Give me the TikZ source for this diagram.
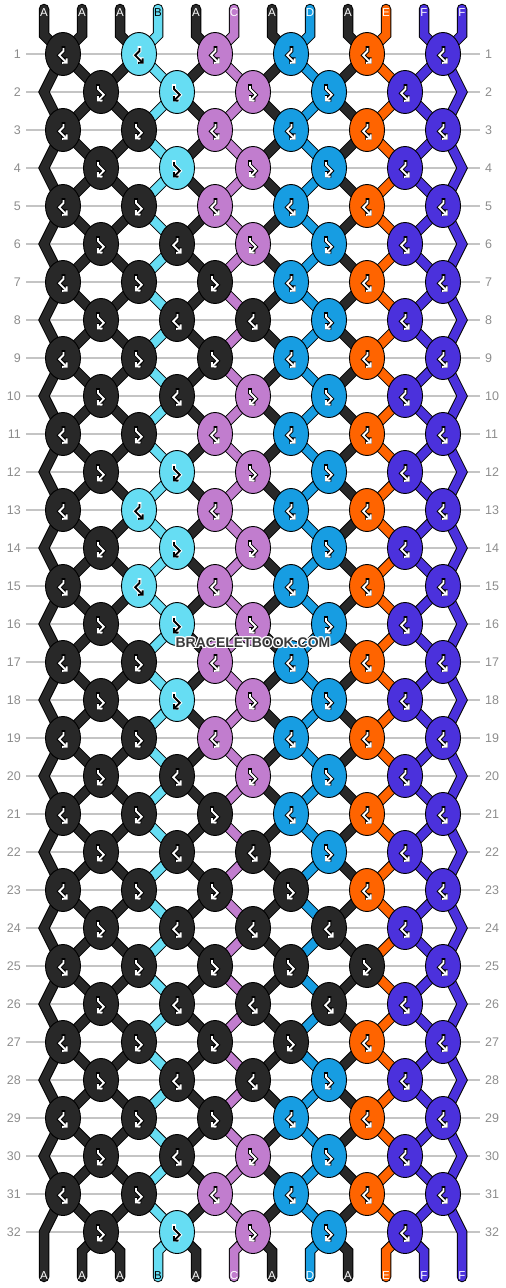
\documentclass[tikz,border=0pt]{standalone}
\usepackage{fontspec}
\setmainfont{Liberation Sans}
\usetikzlibrary{arrows.meta,shapes.geometric}

% thread colours
\definecolor{colA}{HTML}{282828}
\definecolor{colB}{HTML}{66DDF3}
\definecolor{colC}{HTML}{C17DCE}
\definecolor{colD}{HTML}{179DE2}
\definecolor{colE}{HTML}{FF6400}
\definecolor{colF}{HTML}{4B31DC}
\colorlet{inkA}{white}\colorlet{inkB}{black}\colorlet{inkC}{white}
\colorlet{inkD}{white}\colorlet{inkE}{white}\colorlet{inkF}{white}
\colorlet{rimA}{black}\colorlet{rimB}{white}\colorlet{rimC}{black}
\colorlet{rimD}{black}\colorlet{rimE}{black}\colorlet{rimF}{black}
\definecolor{gridgray}{HTML}{C4C4C4}
\definecolor{numgray}{HTML}{8C8C8C}
\definecolor{markgray}{HTML}{3A3A3A}

\tikzset{
  thread/.style={draw=black, line width=1pt, double=col#1, double distance=8.5pt, line cap=round},
  knot/.style={ellipse, draw=black, line width=0.9pt, fill=col#1, minimum width=35pt, minimum height=43pt, inner sep=0pt},
  ink/.style={draw=ink#1, line width=1.9pt, -{Straight Barb[length=3pt,width=6.4pt]}},
  rim/.style={draw=rim#1, line width=3.8pt, line cap=rect, -{Straight Barb[length=3pt,width=6.4pt]}},
  rowline/.style={draw=gridgray, line width=1.2pt},
  rownum/.style={text=numgray, inner sep=0pt, font=\fontsize{12.5}{14}\selectfont},
  endlabel/.style={text=ink#1, inner sep=0pt, font=\fontsize{11.5}{13}\selectfont},
  watermark/.style={text=markgray, inner sep=0pt, font=\bfseries\fontsize{14}{16}\selectfont},
}
% knot glyphs: backward-forward and forward-backward
\def\glyphbf{(0.5,-6) -- (0.5,-3) -- (-3.8,1.3) -- (4.5,9.6)}
\def\glyphfb{(-3,-6) -- (-3,-3) -- (2.8,2.8) -- (-3.8,9.4)}

\begin{document}
\begin{tikzpicture}[x=1pt, y=-1pt]
\useasboundingbox (0,0) rectangle (506,1288);

% string positions, row by row
\foreach \r in {1,...,32}
  \foreach \p in {1,...,12}{
    \pgfmathsetmacro\dx{(isodd(\r) || ((\p>1) && (\p<12))) ? (isodd(\p+\r) ? -19 : 19) : 0}
    \coordinate (s\p-\r) at ({44+38*(\p-1)+\dx}, {54+38*(\r-1)});
  }

% row lines and numbers
\foreach \r in {1,...,32}{
  \coordinate (gl\r) at (26, {54+38*(\r-1)});
  \coordinate (gr\r) at (480, {54+38*(\r-1)});
  \draw[rowline] (gl\r) -- (gr\r);
  \node[rownum, anchor=east] (nl\r) at (21, {54+38*(\r-1)}) {\r};
  \node[rownum, anchor=west] (nr\r) at (485, {54+38*(\r-1)}) {\r};
}

% threads
\foreach \p/\c in {1/A,2/A,3/A,4/B,5/A,6/C,7/A,8/D,9/A,10/E,11/F,12/F}{
  \coordinate (top\p) at ({44+38*(\p-1)}, 9);
  \coordinate (bend\p) at ({44+38*(\p-1)}, 35);
  \coordinate (foot\p) at ({44+38*(\p-1)}, 1251);
  \coordinate (end\p) at ({44+38*(\p-1)}, 1277);
  \draw[thread=\c] (top\p) -- (bend\p) \foreach \r in {1,...,32}{ -- (s\p-\r)} -- (foot\p) -- (end\p);
  \node[endlabel=\c] (lt\p) at ({44+38*(\p-1)}, 13) {\c};
  \node[endlabel=\c] (lb\p) at ({44+38*(\p-1)}, 1276) {\c};
}

% knots: 0 = forward-backward, 1 = backward-forward
\foreach \r/\types in {1/{1,1,1,1,1,1}, 2/{0,0,0,0,1}, 3/{1,0,1,1,1,1}, 4/{0,0,0,0,1},
    5/{1,0,1,1,1,1}, 6/{0,1,0,0,1}, 7/{1,0,0,1,1,1}, 8/{0,1,1,0,1},
    9/{1,0,0,1,1,1}, 10/{0,1,0,0,1}, 11/{1,0,1,1,1,1}, 12/{0,0,0,0,1},
    13/{1,1,1,1,1,1}, 14/{0,0,0,0,1}, 15/{1,1,1,1,1,1}, 16/{0,0,0,0,1},
    17/{1,0,1,1,1,1}, 18/{0,0,0,0,1}, 19/{1,0,1,1,1,1}, 20/{0,1,0,0,1},
    21/{1,0,0,1,1,1}, 22/{0,1,1,0,1}, 23/{1,0,0,0,1,1}, 24/{0,1,1,1,1},
    25/{1,0,0,0,0,1}, 26/{0,1,1,1,1}, 27/{1,0,0,0,1,1}, 28/{0,1,1,0,1},
    29/{1,0,0,1,1,1}, 30/{0,1,0,0,1}, 31/{1,0,1,1,1,1}, 32/{0,0,0,0,1}}
  \foreach \t [count=\k] in \types {
    \pgfmathtruncatemacro\lp{isodd(\r) ? 2*\k-1 : 2*\k}
    \pgfmathsetmacro\kc{{"A","A","A","B","A","C","A","D","A","E","F","F"}[\lp-1+\t]}
    \node[knot=\kc] (k\r-\k) at (s\lp-\r) {};
    \ifnum\t=0
      \draw[rim=\kc, shift={(k\r-\k)}] \glyphfb;
      \draw[ink=\kc, shift={(k\r-\k)}] \glyphfb;
    \else
      \draw[rim=\kc, shift={(k\r-\k)}] \glyphbf;
      \draw[ink=\kc, shift={(k\r-\k)}] \glyphbf;
    \fi
  }

% watermark
\foreach \ox/\oy [count=\i] in {1/0,-1/0,0/1,0/-1,1/1,1/-1,-1/1,-1/-1}
  \node[watermark, text=white] (wmh\i) at ({253+\ox}, {643+\oy}) {BRACELETBOOK.COM};
\node[watermark] (wm) at (253, 643) {BRACELETBOOK.COM};
\end{tikzpicture}
\end{document}
